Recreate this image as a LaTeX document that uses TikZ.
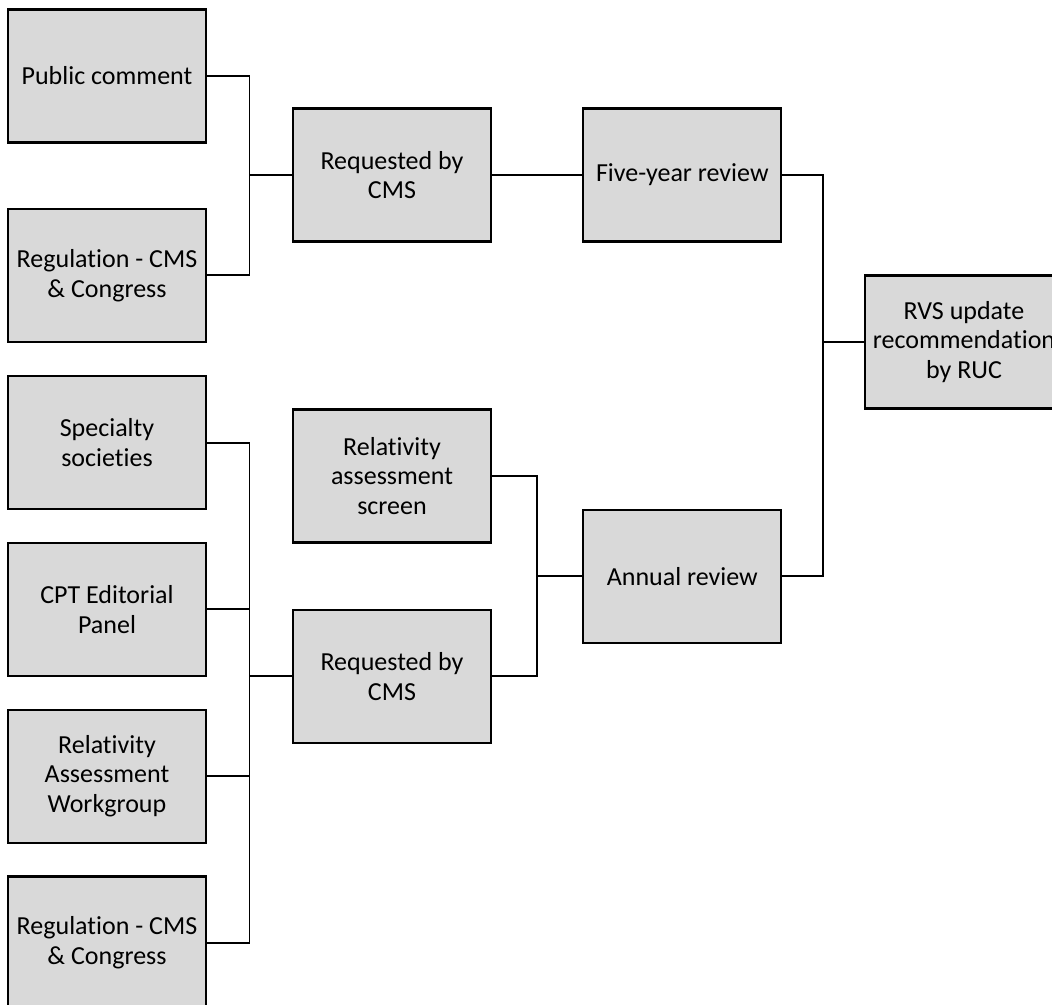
\documentclass[tikz,border=0pt]{standalone}
\usepackage{fontspec}
\setmainfont{Carlito}[Ligatures=NoCommon]
\usepackage{xcolor}
\usepackage{tikz}
\usetikzlibrary{positioning}
\usetikzlibrary{calc}
\definecolor{boxgray}{HTML}{D9D9D9}
\tikzset{box/.style={rectangle,draw,fill=boxgray,line width=1.3pt,minimum width=3.96cm,minimum height=2.66cm,inner sep=2pt,align=center,font=\fontsize{14.8}{17}\selectfont},}

\begin{document}
\begin{tikzpicture}[line width=1.1pt,node distance=0.63cm]
    \useasboundingbox (0,0) rectangle (21.04,-20.08);

    % left column
    \node[box] (pub) at (2.14,-1.52) {Public comment};
    \node[box] (reg1) [below = 1.28cm of pub] {Regulation - CMS\\\& Congress};
    \node[box] (spec) [below = 0.64cm of reg1] {Specialty\\societies};
    \node[box] (cpt) [below = of spec] {CPT Editorial\\Panel};
    \node[box] (raw) [below = of cpt] {Relativity\\Assessment\\Workgroup};
    \node[box] (reg2) [below = of raw] {Regulation - CMS\\\& Congress};

    % middle columns
    \node[box] (req1) at (7.84,-3.5) {Requested by\\CMS};
    \node[box] (five) [right = 1.8cm of req1] {Five-year review};
    \node[box] (ras) at (7.84,-9.52) {Relativity\\assessment\\screen};
    \node[box] (req2) [below = 1.3cm of ras] {Requested by\\CMS};
    \node[box] (annual) [below = 5.32cm of five] {Annual review};
    \node[box] (rvs) at (19.28,-6.84) {RVS update\\recommendation\\by RUC};

    % connectors
    \draw (pub.east) -| ($(pub.east)!0.5!(req1.west)$) |- (reg1.east);
    \draw (req1.west) -| ($(pub.east)!0.5!(req1.west)$);
    \draw (req1) -- (five);
    \draw (five.east) -| ($(five.east)!0.5!(rvs.west)$) |- (annual.east);
    \draw (rvs.west) -| ($(five.east)!0.5!(rvs.west)$);

    \draw (spec.east) -| ($(spec.east)!0.5!(req2.west)$) |- (reg2.east);
    \draw (cpt.east) -| ($(spec.east)!0.5!(req2.west)$);
    \draw (raw.east) -| ($(spec.east)!0.5!(req2.west)$);
    \draw (req2.west) -| ($(spec.east)!0.5!(req2.west)$);

    \draw (ras.east) -| ($(ras.east)!0.5!(annual.west)$) |- (req2.east);
    \draw (annual.west) -| ($(ras.east)!0.5!(annual.west)$);
\end{tikzpicture}
\end{document}
